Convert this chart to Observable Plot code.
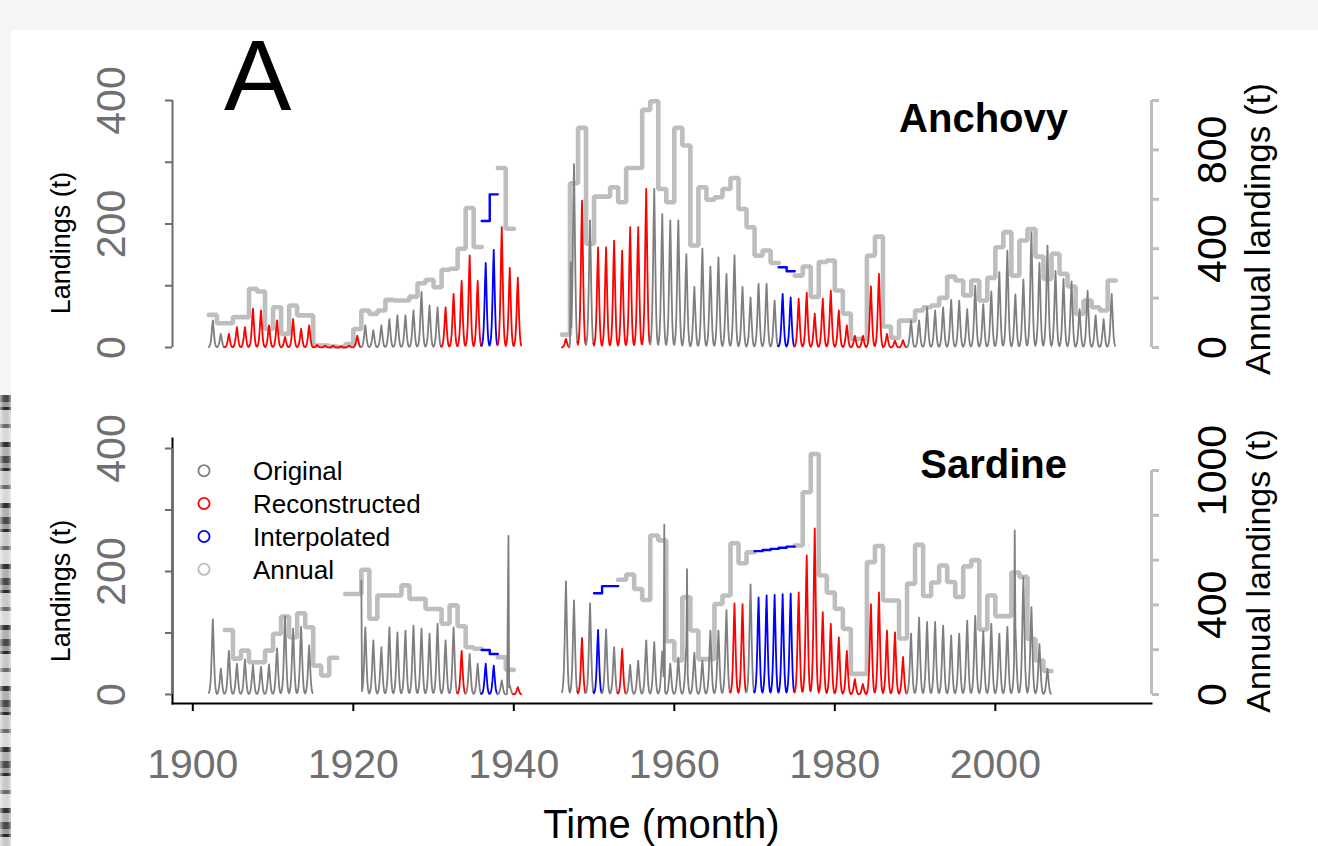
<!DOCTYPE html>
<html>
<head>
<meta charset="utf-8">
<script src="https://cdn.jsdelivr.net/npm/d3@7"></script>
<script src="https://cdn.jsdelivr.net/npm/@observablehq/plot@0.6"></script>
<style>
  html, body { margin: 0; padding: 0; background: #f5f5f5; }
  #page { position: relative; width: 1318px; height: 846px; overflow: hidden; background: #f5f5f5; }
  #sheet { position: absolute; left: 11px; top: 30px; width: 1307px; height: 816px; background: #fff; }
  #scan { position: absolute; left: 0; top: 395px; width: 11px; height: 451px;
    background:
      linear-gradient(90deg, rgba(255,255,255,0.55) 0, rgba(255,255,255,0) 4px, rgba(0,0,0,0) 8px, rgba(255,255,255,0.5) 11px),
      repeating-linear-gradient(180deg, #4a4a4a 0 7px, #9a9a9a 7px 12px, #2a2a2a 12px 15px, #c8c8c8 15px 29px, #6a6a6a 29px 33px, #d8d8d8 33px 47px, #333 47px 52px, #b0b0b0 52px 61px); }
  .panel { position: absolute; left: 0; }
  #top { top: 0; }
  #bottom { top: 400px; }
  #overlay { position: absolute; left: 0; top: 0; pointer-events: none; }
</style>
</head>
<body>
<div id="page">
  <div id="sheet"></div>
  <div id="scan"></div>
  <div id="top" class="panel"></div>
  <div id="bottom" class="panel"></div>
  <svg id="overlay" width="1318" height="846"></svg>
</div>
<script>
// ---------------- DATA ----------------
const timeTicks = [1900, 1920, 1940, 1960, 1980, 2000];
const leftTicks = [0, 100, 200, 300, 400];
const leftTickLabels = [0, 200, 400];
const rightTicks = [0, 200, 400, 600, 800, 1000];
const anchovyRightLabels = [0, 400, 800];
const sardineRightLabels = [0, 400, 1000];
const legendLabels = ["Original", "Reconstructed", "Interpolated", "Annual"];
const sourceCodes = ["g", "r", "b"];

// typical within-year shape of monthly landings (fraction of the year's peak month)
const seasonalProfile = [0.02, 0.05, 0.11, 0.24, 0.47, 0.78, 1.0, 0.72, 0.42, 0.2, 0.08, 0.03];

// ANCHOVY monthly: yearly peak month (t) and source (g original, r reconstructed, b interpolated)
const anchovyMonthYears = [1902,1903,1904,1905,1906,1907,1908,1909,1910,1911,1912,1913,1914,1915,1916,1917,1918,1919,1920,1921,1922,1923,1924,1925,1926,1927,1928,1929,1930,1931,1932,1933,1934,1935,1936,1937,1938,1939,1940,
  1946,1947,1948,1949,1950,1951,1952,1953,1954,1955,1956,1957,1958,1959,1960,1961,1962,1963,1964,1965,1966,1967,1968,1969,1970,1971,1972,1973,1974,1975,1976,1977,1978,1979,1980,1981,1982,1983,1984,1985,1986,1987,1988,1989,1990,1991,1992,1993,1994,1995,1996,1997,1998,1999,2000,2001,2002,2003,2004,2005,2006,2007,2008,2009,2010,2011,2012,2013,2014];
const anchovyMonthPeak = [44,22,22,33,33,63,60,36,44,17,46,30,36,4,3,3,2,3,19,36,28,36,46,52,52,60,90,68,65,65,87,108,149,108,137,158,195,129,113,
  14,297,238,206,162,162,173,157,195,195,257,257,216,206,206,151,98,160,131,146,119,149,98,81,103,103,76,87,81,79,89,55,79,92,60,36,19,19,99,119,22,11,12,44,44,65,60,65,77,76,62,100,70,91,122,157,86,110,187,137,165,124,111,107,62,92,52,46,87];
const anchovyMonthSource = ("gg" + "rrrrrrrrrrrrrrrrr" + "gggggggggg" + "rrrrr" + "bb" + "rrr" +
  "rgrg" + "rrrrrrr" + "gggggggggggggggg" + "bb" + "rrrrrrrrrrrrrr" + "gggggggggggggggggggggggggg").split("");
// isolated single-month spikes: [year, month index, landings]
const anchovySpikes = [[1947, 1, 138]];

// ANCHOVY annual landings (t)
const anchovyAnnualYears = [1902,1903,1904,1905,1906,1907,1908,1909,1910,1911,1912,1913,1914,1915,1916,1917,1918,1919,1920,1921,1922,1923,1924,1925,1926,1927,1928,1929,1930,1931,1932,1933,1934,1935,1936,1937,1938,1939,
  1946,1947,1948,1949,1950,1951,1952,1953,1954,1955,1956,1957,1958,1959,1960,1961,1962,1963,1964,1965,1966,1967,1968,1969,1970,1971,1972,1973,1974,1975,1976,1977,1978,1979,1980,1981,1982,1983,1984,1985,1986,1987,1988,1989,1990,1991,1992,1993,1994,1995,1996,1997,1998,1999,2000,2001,2002,2003,2004,2005,2006,2007,2008,2009,2010,2011,2012,2013,2014];
const anchovyAnnual = [132,98,98,123,123,238,227,75,163,55,170,130,130,8,8,4,2,14,75,150,136,150,193,190,190,206,260,274,244,315,319,400,565,407,512,620,727,481,
  52,665,889,420,611,611,649,588,727,727,962,997,642,588,889,818,413,649,598,608,642,686,561,487,372,393,342,325,309,291,328,205,346,352,231,137,35,35,372,449,85,39,109,109,150,163,170,201,287,271,211,271,190,282,406,467,291,433,480,368,278,379,298,247,136,190,163,150,271];
const anchovyAnnualSource = ("g".repeat(34) + "bb" + "gg" + "g".repeat(27) + "bb" + "g".repeat(40)).split("");

// SARDINE monthly
const sardineMonthYears = [1902,1903,1904,1905,1906,1907,1908,1909,1910,1911,1912,1913,1914,
  1921,1922,1923,1924,1925,1926,1927,1928,1929,1930,1931,1932,1933,1934,1935,1936,1937,1938,1939,1940,
  1946,1947,1948,1949,1950,1951,1952,1953,1954,1955,1956,1957,1958,1959,1960,1961,1962,1963,1964,1965,1966,1967,1968,1969,1970,1971,1972,1973,1974,1975,1976,1977,1978,1979,1980,1981,1982,1983,1984,1985,1986,1987,1988,
  1989,1990,1991,1992,1993,1994,1995,1996,1997,1998,1999,2000,2001,2002,2003,2004,2005,2006];
const sardineMonthPeak = [122,42,71,50,57,48,45,49,75,127,107,110,80,
  109,88,77,109,101,104,112,107,99,115,88,109,71,66,50,50,47,23,15,12,
  184,153,92,148,105,106,77,74,48,55,88,85,70,50,60,80,68,55,104,104,137,148,147,179,158,161,162,163,164,166,226,270,134,115,93,71,25,17,147,166,104,101,61,
  99,125,118,118,112,96,99,120,128,103,115,99,110,110,191,142,82,42];
const sardineMonthSource = ("g".repeat(13) +
  "gggggggggggg" + "r" + "gg" + "bb" + "gg" + "r" +
  "ggrgbggr" + "g".repeat(13) + "rr" + "g" + "bbbbb" + "r".repeat(14) +
  "g".repeat(18)).split("");
const sardineSpikes = [[1921, 0, 185], [1939, 3, 137], [1939, 4, 258], [1958, 9, 276], [1961, 7, 204], [2002, 5, 267]];

// SARDINE annual landings (t)
const sardineAnnualYears = [1904,1905,1906,1907,1908,1909,1910,1911,1912,1913,1914,1915,1916,1917,
  1919,1920,1921,1922,1923,1924,1925,1926,1927,1928,1929,1930,1931,1932,1933,1934,1935,1936,1937,1938,1939,
  1950,1951,1952,1953,1954,1955,1956,1957,1958,1959,1960,1961,1962,1963,1964,1965,1966,1967,1968,1969,1970,1971,1972,1973,1974,1975,1976,1977,1978,1979,1980,1981,1982,1983,1984,1985,1986,1987,1988,1989,1990,1991,1992,1993,1994,1995,1996,1997,1998,1999,2000,2001,2002,2003,2004,2005,2006];
const sardineAnnual = [288,160,196,144,144,196,271,348,256,363,300,129,85,164,
  449,449,557,338,442,442,442,487,427,427,382,382,316,398,305,211,204,199,181,166,110,
  452,484,484,512,536,471,422,710,688,238,152,434,286,158,158,404,442,675,586,635,640,645,650,655,660,665,903,1074,531,455,383,293,92,92,591,663,420,420,250,495,668,440,500,576,502,435,572,600,290,442,350,350,545,525,248,152,105];
const sardineAnnualSource = ("g".repeat(14) + "g".repeat(17) + "bb" + "gg" +
  "bbb" + "g".repeat(17) + "bbbbb" + "g".repeat(32)).split("");

// ---------------- LAYOUT / STYLE ----------------
const FONT = "'Liberation Sans', Arial, Helvetica, sans-serif";
const xLimits = [1897.47, 2019.46];
const monthColors = ["#7f7f7f", "#ff0000", "#0000ff"];
const legendColors = ["#7f7f7f", "#ff0000", "#0000ff", "#bebebe"];
const annualGray = "#bebebe";
const axisGray = "#6b6b6b";
const labelGray = "#707070";

// ---------------- HELPERS ----------------
function monthlySeries(years, peaks, sources, spikes) {
  const out = [];
  let run = -1, prevYear = null, prevSrc = null;
  years.forEach((Y, i) => {
    const s = sources[i];
    const contiguous = prevYear !== null && Y === prevYear + 1;
    if (!contiguous || s !== prevSrc) {
      run++;
      if (contiguous) {
        const last = out[out.length - 1];
        out.push({t: last.t, v: last.v, run, src: s});
      }
    }
    for (let m = 0; m < 12; m++) {
      let v = peaks[i] * seasonalProfile[m];
      for (const [sy, sm, sv] of spikes) if (sy === Y && sm === m) v = Math.max(v, sv);
      out.push({t: Y + m / 12, v, run, src: s});
    }
    prevYear = Y; prevSrc = s;
  });
  return out;
}

function annualSteps(years, values, sources) {
  const out = [];
  let run = -1, prevYear = null, prevSrc = null;
  years.forEach((Y, i) => {
    const s = sources[i];
    if (!(prevYear !== null && Y === prevYear + 1 && s === prevSrc)) run++;
    out.push({t: Y, v: values[i], run, src: s});
    out.push({t: Y + 1, v: values[i], run, src: s});
    prevYear = Y; prevSrc = s;
  });
  return out;
}

function panel(opts) {
  const k = opts.annualFactor;
  const monthly = monthlySeries(opts.mYears, opts.mPeak, opts.mSource, opts.spikes);
  const annual = annualSteps(opts.aYears, opts.aValues, opts.aSource);
  const marks = [];
  if (opts.bottomAxis) {
    marks.push(Plot.frame({anchor: "left", stroke: "black", strokeWidth: 2}));
    marks.push(Plot.frame({anchor: "bottom", stroke: "black", strokeWidth: 2}));
    marks.push(Plot.axisX({ticks: timeTicks, tickSize: 8, tickPadding: 37, stroke: "black", strokeWidth: 2,
      fill: labelGray, fontSize: 41, tickFormat: d => String(d), label: null}));
  }
  // left axis
  marks.push(Plot.ruleX([xLimits[0]], {y1: 0, y2: 400, stroke: axisGray, strokeWidth: 2}));
  marks.push(Plot.axisY({anchor: "left", ticks: leftTicks, tickSize: 7, stroke: axisGray, strokeWidth: 2, fill: "none", label: null}));
  marks.push(Plot.text(leftTickLabels, {y: d => d, text: d => String(d), frameAnchor: "left", dx: -61, rotate: -90,
    fill: labelGray, fontSize: 41, textAnchor: "middle"}));
  // right (annual) axis
  marks.push(Plot.ruleX([xLimits[1]], {y1: 0, y2: 1000 * k, stroke: annualGray, strokeWidth: 3}));
  marks.push(Plot.axisY({anchor: "right", ticks: rightTicks.map(d => d * k), tickSize: 7, stroke: annualGray, strokeWidth: 3, fill: "none", label: null}));
  marks.push(Plot.text(opts.rightLabels, {y: d => d * k, text: d => String(d), frameAnchor: "right", dx: 61, rotate: -90,
    fill: "black", fontSize: 41, textAnchor: "middle"}));
  // annual step lines
  marks.push(Plot.line(annual.filter(d => d.src === "g"), {x: "t", y: d => d.v * k, z: "run", stroke: annualGray, strokeWidth: 4.6, strokeLinejoin: "miter"}));
  marks.push(Plot.line(annual.filter(d => d.src === "b"), {x: "t", y: d => d.v * k, z: "run", stroke: "#0000ff", strokeWidth: 2.4}));
  // monthly landings
  marks.push(Plot.line(monthly, {x: "t", y: "v", z: "run", stroke: "src", strokeWidth: 1.8}));

  const yScale = {domain: [0, 400]};
  if (opts.yRange) yScale.range = opts.yRange;
  return Plot.plot({
    width: 1318, height: opts.height,
    marginLeft: 172, marginRight: 167, marginTop: opts.marginTop, marginBottom: opts.marginBottom,
    x: {domain: xLimits, axis: opts.bottomAxis ? undefined : null},
    y: yScale,
    color: {domain: sourceCodes, range: monthColors},
    style: {background: "transparent", fontFamily: FONT, overflow: "visible"},
    marks
  });
}

document.getElementById("top").appendChild(panel({
  mYears: anchovyMonthYears, mPeak: anchovyMonthPeak, mSource: anchovyMonthSource, spikes: anchovySpikes,
  aYears: anchovyAnnualYears, aValues: anchovyAnnual, aSource: anchovyAnnualSource,
  annualFactor: 0.4, rightLabels: anchovyRightLabels,
  height: 400, marginTop: 100, marginBottom: 53, bottomAxis: false
}));

document.getElementById("bottom").appendChild(panel({
  mYears: sardineMonthYears, mPeak: sardineMonthPeak, mSource: sardineMonthSource, spikes: sardineSpikes,
  aYears: sardineAnnualYears, aValues: sardineAnnual, aSource: sardineAnnualSource,
  annualFactor: 0.3642, rightLabels: sardineRightLabels,
  height: 446, marginTop: 38, marginBottom: 143, yRange: [294, 48], bottomAxis: true
}));

// ---------------- TEXT OVERLAY ----------------
const ov = d3.select("#overlay").style("font-family", FONT);
function label(x, y, s, size, o = {}) {
  const t = ov.append("text").attr("x", x).attr("y", y).text(s)
    .attr("font-size", size).attr("fill", o.fill || "black")
    .attr("text-anchor", o.anchor || "start").attr("font-weight", o.weight || "normal");
  if (o.rotate) t.attr("transform", `rotate(${o.rotate},${x},${y})`);
  return t;
}
label(224, 110, "A", 101);
label(1068, 132, "Anchovy", 40, {anchor: "end", weight: "bold"});
label(1067, 478, "Sardine", 40, {anchor: "end", weight: "bold"});
label(70, 243, "Landings (t)", 27, {anchor: "middle", rotate: -90});
label(70, 591, "Landings (t)", 27, {anchor: "middle", rotate: -90});
label(1270, 229, "Annual landings (t)", 35, {anchor: "middle", rotate: -90});
label(1270, 571, "Annual landings (t)", 34, {anchor: "middle", rotate: -90});
label(661.5, 838, "Time (month)", 40, {anchor: "middle"});

const legendY = [470.7, 503.5, 536.5, 569.3];
legendLabels.forEach((s, i) => {
  ov.append("circle").attr("cx", 204).attr("cy", legendY[i]).attr("r", 5.6)
    .attr("fill", "none").attr("stroke", legendColors[i]).attr("stroke-width", 1.8);
  label(253, legendY[i] + 9.5, s, 26);
});
</script>
</body>
</html>
